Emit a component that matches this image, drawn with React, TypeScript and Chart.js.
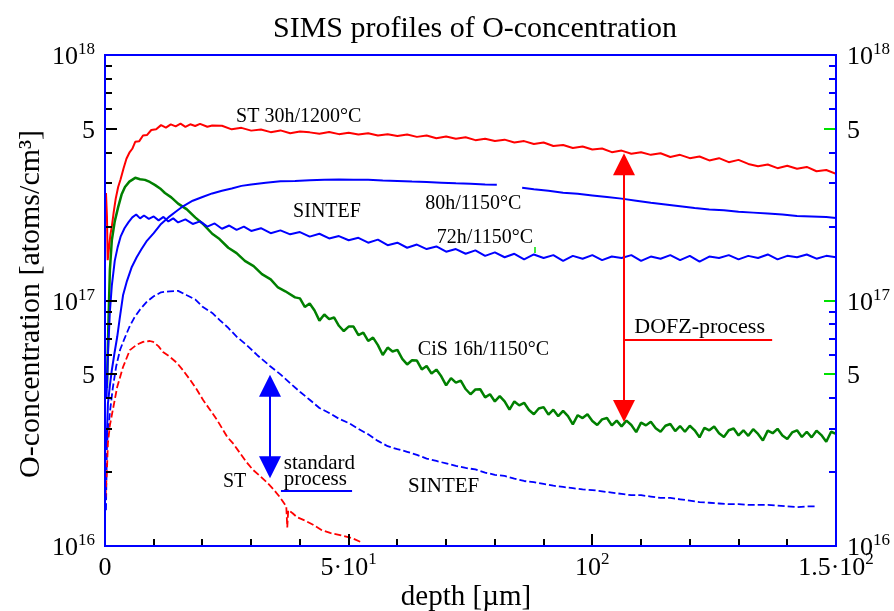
import React, { useEffect, useRef } from "react";
import { Chart, registerables } from "chart.js";

Chart.register(...registerables);

const FONT = '"Liberation Serif", "Times New Roman", Times, serif';

// ---- data: [depth (µm), O-concentration (atoms/cm^3)] ----
const stSolid: [number, number][] = [
  [0.2, 2.74e17], [0.4, 2.2e17], [0.55, 1.46e17], [0.8, 1.62e17], [1.1, 1.85e17], [1.4, 2.0e17],
  [1.8, 2.3e17], [2.2, 2.6e17], [2.7, 2.9e17], [3.2, 3.12e17], [3.8, 3.45e17], [4.4, 3.78e17],
  [5.0, 4.0e17], [5.6, 4.15e17], [6.2, 4.43e17], [7.0, 4.45e17], [7.8, 4.7e17], [8.6, 4.72e17],
  [9.5, 4.95e17], [10.5, 4.98e17], [11.5, 5.18e17], [12.5, 5.06e17], [13.5, 5.22e17], [14.5, 5.12e17],
  [15.5, 5.25e17], [16.5, 5.1e17], [17.5, 5.22e17], [18.5, 5.14e17], [19.5, 5.24e17], [21, 5.1e17],
  [22, 5.16e17], [24, 5.15e17], [26, 4.98e17], [28, 5.05e17], [30, 4.92e17], [32, 4.97e17],
  [34, 4.85e17], [36, 4.93e17], [38, 4.8e17], [40, 4.88e17], [42, 4.84e17], [44, 4.78e17],
  [46, 4.86e17], [48, 4.76e17], [50, 4.82e17], [52, 4.74e17], [54, 4.8e17], [56, 4.7e17],
  [58, 4.76e17], [60, 4.68e17], [62, 4.74e17], [64, 4.64e17], [66, 4.7e17], [68, 4.58e17],
  [70, 4.66e17], [72, 4.56e17], [74, 4.62e17], [76, 4.5e17], [78, 4.56e17], [80, 4.46e17],
  [82, 4.52e17], [84, 4.4e17], [86, 4.46e17], [88, 4.34e17], [90, 4.4e17], [92, 4.26e17],
  [94, 4.3e17], [96, 4.18e17], [98, 4.24e17], [100, 4.12e17], [102, 4.16e17], [104, 4.02e17],
  [106, 4.08e17], [108, 3.96e17], [110, 4.02e17], [112, 3.92e17], [114, 3.98e17], [116, 3.84e17],
  [118, 3.92e17], [120, 3.8e17], [122, 3.86e17], [124, 3.72e17], [126, 3.8e17], [128, 3.66e17],
  [130, 3.74e17], [132, 3.6e17], [134, 3.52e17], [136, 3.58e17], [138, 3.46e17], [140, 3.54e17],
  [142, 3.44e17], [144, 3.5e17], [146, 3.36e17], [148, 3.4e17], [150, 3.28e17],
];

const sintef80hA: [number, number][] = [
  [0.3, 2.5e16], [0.6, 3.8e16], [1.0, 4.5e16], [1.4, 5.2e16], [2.0, 6.2e16], [2.5, 7.1e16],
  [3.0, 8.4e16], [3.7, 1.05e17], [4.5, 1.2e17], [5.5, 1.37e17], [6.5, 1.5e17], [7.5, 1.62e17],
  [8.5, 1.74e17], [10, 1.88e17], [11.5, 2.05e17], [13, 2.18e17], [14.5, 2.3e17], [16, 2.42e17],
  [18, 2.55e17], [20, 2.64e17], [22, 2.73e17], [24, 2.8e17], [26, 2.86e17], [28, 2.93e17],
  [30, 2.97e17], [33, 3.02e17], [36, 3.06e17], [39, 3.07e17], [42, 3.09e17], [45, 3.1e17],
  [48, 3.11e17], [51, 3.1e17], [54, 3.1e17], [57, 3.08e17], [60, 3.07e17], [63, 3.05e17],
  [66, 3.04e17], [69, 3.02e17], [72, 3.0e17], [75, 2.99e17], [78, 2.97e17], [80.4, 2.96e17],
];

const sintef80hB: [number, number][] = [
  [85.6, 2.88e17], [88, 2.84e17], [91, 2.8e17], [94, 2.75e17], [97, 2.72e17], [100, 2.68e17],
  [103, 2.64e17], [106, 2.6e17], [109, 2.55e17], [112, 2.5e17], [115, 2.46e17], [118, 2.42e17],
  [121, 2.38e17], [124, 2.35e17], [127, 2.33e17], [130, 2.3e17], [133, 2.28e17], [136, 2.26e17],
  [139, 2.24e17], [142, 2.21e17], [145, 2.2e17], [148, 2.19e17], [150, 2.17e17],
];

const sintef72h: [number, number][] = [
  [0.3, 4.0e16], [0.6, 6.0e16], [1.0, 9.0e16], [1.4, 1.15e17], [2.0, 1.45e17], [2.6, 1.65e17],
  [3.2, 1.82e17], [4.0, 1.97e17], [4.8, 2.08e17], [5.6, 2.18e17], [6.4, 2.24e17], [7.2, 2.16e17],
  [8.0, 2.22e17], [9, 2.15e17], [10, 2.2e17], [11, 2.12e17], [12, 2.19e17], [13, 2.1e17],
  [14, 2.16e17], [15, 2.08e17], [16.5, 2.14e17], [18, 2.05e17], [19.5, 2.1e17], [21, 2.0e17],
  [22.5, 2.06e17], [24, 1.96e17], [25.5, 2.02e17], [27, 1.94e17], [28.5, 2.0e17], [30, 1.92e17],
  [32, 1.97e17], [34, 1.88e17], [36, 1.93e17], [38, 1.86e17], [40, 1.9e17], [42, 1.82e17],
  [44, 1.87e17], [46, 1.79e17], [48, 1.83e17], [50, 1.76e17], [52, 1.8e17], [54, 1.72e17],
  [56, 1.77e17], [58, 1.68e17], [60, 1.72e17], [62, 1.64e17], [64, 1.69e17], [66, 1.62e17],
  [68, 1.66e17], [70, 1.58e17], [72, 1.62e17], [74, 1.55e17], [76, 1.6e17], [78, 1.52e17],
  [80, 1.57e17], [82, 1.5e17], [84, 1.55e17], [86, 1.47e17], [88, 1.54e17], [90, 1.49e17],
  [92, 1.53e17], [94, 1.45e17], [96, 1.52e17], [98, 1.48e17], [100, 1.53e17], [102, 1.46e17],
  [104, 1.51e17], [106, 1.49e17], [108, 1.53e17], [110, 1.45e17], [112, 1.51e17], [114, 1.48e17],
  [116, 1.53e17], [118, 1.46e17], [120, 1.52e17], [122, 1.44e17], [124, 1.51e17], [126, 1.49e17],
  [128, 1.53e17], [130, 1.47e17], [132, 1.52e17], [134, 1.49e17], [136, 1.54e17], [138, 1.47e17],
  [140, 1.52e17], [142, 1.5e17], [144, 1.54e17], [146, 1.48e17], [148, 1.52e17], [150, 1.5e17],
];

const cis16h: [number, number][] = [
  [0.4, 4.4e16], [0.7, 8.0e16], [1.0, 1.33e17], [1.4, 1.76e17], [2.0, 2.1e17], [2.7, 2.4e17],
  [3.4, 2.7e17], [4.1, 2.9e17], [5.0, 3.05e17], [6.2, 3.16e17], [7.2, 3.12e17], [8.2, 3.1e17],
  [9.2, 3.04e17], [10.3, 2.95e17], [11.3, 2.86e17], [12.3, 2.74e17], [13.6, 2.63e17], [15.0, 2.48e17],
  [16.8, 2.35e17], [18.5, 2.18e17], [20, 2.06e17], [22, 1.87e17], [23.5, 1.78e17], [25.3, 1.64e17],
  [27, 1.56e17], [28.7, 1.45e17], [30.5, 1.38e17], [32.2, 1.28e17], [34, 1.22e17], [35.5, 1.13e17],
  [37, 1.09e17], [39, 1.03e17],
  [40, 10.2e16], [41, 9.41e16], [42, 9.73e16], [43, 9.11e16], [44, 8.28e16], [45, 8.77e16],
  [46, 8.4e16], [47, 8.53e16], [48, 7.89e16], [49, 7.51e16], [50, 7.83e16], [51, 7.83e16],
  [52, 7.23e16], [53, 7.4e16], [54, 6.84e16], [55, 7.06e16], [56, 6.58e16], [57, 6.0e16],
  [58, 6.43e16], [59, 6.2e16], [60, 6.29e16], [61, 5.78e16], [62, 5.49e16], [63, 5.71e16],
  [64, 5.69e16], [65, 5.24e16], [66, 5.41e16], [67, 5.04e16], [68, 5.23e16], [69, 4.91e16],
  [70, 4.51e16], [71, 4.83e16], [72, 4.63e16], [73, 4.72e16], [74, 4.36e16], [75, 4.15e16],
  [76, 4.34e16], [77, 4.35e16], [78, 4.03e16], [79, 4.15e16], [80, 3.88e16], [81, 4.08e16],
  [82, 3.88e16], [83, 3.59e16], [84, 3.88e16], [85, 3.74e16], [86, 3.83e16], [87, 3.58e16],
  [88, 3.44e16], [89, 3.63e16], [90, 3.68e16], [91, 3.43e16], [92, 3.59e16], [93, 3.38e16],
  [94, 3.55e16], [95, 3.38e16], [96, 3.13e16], [97, 3.41e16], [98, 3.32e16], [99, 3.44e16],
  [100, 3.23e16], [101, 3.11e16], [102, 3.28e16], [103, 3.32e16], [104, 3.1e16], [105, 3.24e16],
  [106, 3.07e16], [107, 3.24e16], [108, 3.11e16], [109, 2.91e16], [110, 3.18e16], [111, 3.1e16],
  [112, 3.21e16], [113, 3.02e16], [114, 2.92e16], [115, 3.09e16], [116, 3.14e16], [117, 2.94e16],
  [118, 3.08e16], [119, 2.92e16], [120, 3.09e16], [121, 2.96e16], [122, 2.77e16], [123, 3.03e16],
  [124, 2.96e16], [125, 3.07e16], [126, 2.88e16], [127, 2.78e16], [128, 2.96e16], [129, 3.01e16],
  [130, 2.82e16], [131, 2.96e16], [132, 2.81e16], [133, 2.99e16], [134, 2.86e16], [135, 2.69e16],
  [136, 2.95e16], [137, 2.88e16], [138, 3.0e16], [139, 2.82e16], [140, 2.73e16], [141, 2.9e16],
  [142, 2.96e16], [143, 2.78e16], [144, 2.92e16], [145, 2.77e16], [146, 2.95e16], [147, 2.83e16],
  [148, 2.66e16], [149, 2.92e16], [150, 2.86e16],
];

const sintefStd: [number, number][] = [
  [0.2, 1.4e16], [0.4, 2.6e16], [0.7, 3.0e16], [1.0, 3.5e16], [1.6, 4.4e16], [2.3, 5.4e16],
  [3.1, 6.3e16], [4.0, 7.0e16], [5.0, 7.8e16], [6.0, 8.5e16], [7.2, 9.2e16], [8.6, 9.9e16],
  [10, 10.4e16], [11.5, 10.8e16], [13.3, 10.9e16], [15, 10.95e16], [16.8, 10.5e16], [18.5, 10.1e16],
  [20.1, 9.4e16], [22, 8.9e16], [23.6, 8.3e16], [25.1, 7.8e16], [27.1, 7.1e16], [29, 6.6e16],
  [31.2, 6.0e16], [33.9, 5.4e16], [36, 5.0e16], [38, 4.6e16], [40, 4.25e16], [42, 3.94e16],
  [44, 3.65e16], [46, 3.48e16], [48, 3.3e16], [50, 3.17e16], [52, 3.0e16], [54, 2.85e16],
  [56, 2.68e16], [58, 2.55e16], [60, 2.48e16], [62, 2.42e16], [64, 2.35e16], [66, 2.27e16],
  [68, 2.22e16], [70, 2.17e16], [72, 2.12e16], [74, 2.08e16], [76, 2.05e16], [78, 1.99e16],
  [80, 1.95e16], [82, 1.93e16], [84, 1.88e16], [86, 1.84e16], [88, 1.82e16], [90, 1.79e16],
  [92, 1.76e16], [94, 1.74e16], [96, 1.72e16], [98, 1.7e16], [100, 1.69e16], [102, 1.67e16],
  [104, 1.65e16], [106, 1.63e16], [108, 1.61e16], [110, 1.61e16], [112, 1.59e16], [114, 1.57e16],
  [116, 1.57e16], [118, 1.55e16], [120, 1.53e16], [122, 1.51e16], [124, 1.5e16], [126, 1.49e16],
  [128, 1.48e16], [130, 1.48e16], [132, 1.47e16], [134, 1.47e16], [136, 1.47e16], [138, 1.46e16],
  [140, 1.45e16], [142, 1.44e16], [144, 1.45e16], [145.8, 1.45e16],
];

const stStd: [number, number][] = [
  [0.1, 1.58e16], [0.4, 2.04e16], [0.6, 2.63e16], [1.0, 3.1e16], [1.6, 3.58e16], [2.5, 4.44e16],
  [3.7, 5.36e16], [5.1, 6.28e16], [6.5, 6.6e16], [7.8, 6.78e16], [9.2, 6.84e16], [9.9, 6.78e16],
  [11.0, 6.5e16], [11.9, 6.17e16], [13.3, 5.9e16], [14.8, 5.56e16], [16.0, 5.2e16], [17.5, 4.74e16],
  [18.8, 4.35e16], [20.1, 3.94e16], [21.5, 3.6e16], [23.0, 3.26e16], [25.1, 2.78e16], [26.4, 2.6e16],
  [27.7, 2.39e16], [29.0, 2.2e16], [30.4, 2.04e16], [31.8, 1.93e16], [33.3, 1.81e16], [34.6, 1.7e16],
  [35.9, 1.58e16], [37.2, 1.45e16], [37.4, 1.19e16], [37.6, 1.4e16], [38.5, 1.36e16], [39.4, 1.31e16],
  [41, 1.27e16], [42.7, 1.22e16], [44.5, 1.16e16], [46.2, 1.13e16], [48, 1.11e16], [49.7, 1.09e16],
  [51, 1.07e16], [52.4, 1.04e16],
];

// ---- axes ----
const yMajorTicks = [5e16, 1e17, 5e17];
const yMinorTicks = [2e16, 3e16, 4e16, 6e16, 7e16, 8e16, 9e16, 2e17, 3e17, 4e17, 6e17, 7e17, 8e17, 9e17];
const xMajorTicks = [50, 100];
const xMinorTicks = [10, 20, 30, 40, 60, 70, 80, 90, 110, 120, 130, 140];
const rightGreenTicks = [5e16, 1e17, 5e17];
const yTickLabels: [number, string, string][] = [
  [1e16, "10", "16"], [5e16, "5", ""], [1e17, "10", "17"], [5e17, "5", ""], [1e18, "10", "18"],
];
const xTickLabels: [number, string, string][] = [
  [0, "0", ""], [50, "5·10", "1"], [100, "10", "2"], [150, "1.5·10", "2"],
];

// ---- annotations (anchored in data coordinates) ----
const curveLabels: [string, number, number, number][] = [
  ["ST 30h/1200°C", 26.9, 5.34e17, 20],
  ["SINTEF", 38.6, 2.19e17, 20],
  ["80h/1150°C", 65.7, 2.36e17, 20],
  ["72h/1150°C", 68.1, 1.72e17, 20],
  ["CiS 16h/1150°C", 64.2, 6.0e16, 20],
  ["DOFZ-process", 108.6, 7.37e16, 22],
  ["ST", 24.2, 1.74e16, 20],
  ["standard", 36.7, 2.06e16, 21],
  ["process", 36.7, 1.77e16, 21],
  ["SINTEF", 62.2, 1.66e16, 21],
];
const underlines: [number, number, number, string][] = [
  [106.3, 136.9, 6.9e16, "#ff0000"],
  [36.1, 50.7, 1.67e16, "#0000ff"],
];
const arrows: [number, number, number, string][] = [
  [106.4, 3.98e17, 3.2e16, "#ff0000"],
  [33.9, 4.98e16, 1.89e16, "#0000ff"],
];

const toPts = (arr: [number, number][]) => arr.map(([x, y]) => ({ x, y }));

function drawPow(ctx: CanvasRenderingContext2D, base: string, exp: string, x: number, y: number,
  align: "left" | "right" | "center", bs: number, es: number, raise: number) {
  ctx.font = `${bs}px ${FONT}`;
  const wb = ctx.measureText(base).width;
  ctx.font = `${es}px ${FONT}`;
  const we = exp ? ctx.measureText(exp).width : 0;
  const tot = wb + we;
  const x0 = align === "left" ? x : align === "right" ? x - tot : x - tot / 2;
  ctx.textAlign = "left";
  ctx.textBaseline = "alphabetic";
  ctx.font = `${bs}px ${FONT}`;
  ctx.fillText(base, x0, y);
  if (exp) {
    ctx.font = `${es}px ${FONT}`;
    ctx.fillText(exp, x0 + wb, y - raise);
  }
}

const decorPlugin = {
  id: "decor",
  afterDraw(chart: any) {
    const { ctx, chartArea: a, scales } = chart;
    const xs = scales.x;
    const ys = scales.y;
    ctx.save();
    const line = (x1: number, y1: number, x2: number, y2: number, c: string, w: number) => {
      ctx.beginPath();
      ctx.strokeStyle = c;
      ctx.lineWidth = w;
      ctx.moveTo(x1, y1);
      ctx.lineTo(x2, y2);
      ctx.stroke();
    };
    // y ticks
    const yt = (v: number, len: number) => {
      const p = Math.round(ys.getPixelForValue(v));
      line(a.left, p, a.left + len, p, "#000", 2);
      const green = rightGreenTicks.includes(v);
      line(a.right, p, a.right - len, p, green ? "#00e000" : "#0000ff", 2);
    };
    yMajorTicks.forEach((v) => yt(v, 12));
    yMinorTicks.forEach((v) => yt(v, 7));
    // x ticks
    xMajorTicks.forEach((v) => {
      const p = Math.round(xs.getPixelForValue(v));
      line(p, a.bottom, p, a.bottom - 12, "#000", 2);
    });
    xMinorTicks.forEach((v) => {
      const p = Math.round(xs.getPixelForValue(v));
      line(p, a.bottom, p, a.bottom - 7, "#000", 2);
    });
    // small green mark
    line(Math.round(xs.getPixelForValue(88.3)), ys.getPixelForValue(1.65e17), Math.round(xs.getPixelForValue(88.3)), ys.getPixelForValue(1.56e17), "#00e000", 1.5);
    // frame
    ctx.strokeStyle = "#0000ff";
    ctx.lineWidth = 2;
    ctx.strokeRect(a.left, a.top, a.right - a.left, a.bottom - a.top);

    ctx.fillStyle = "#000";
    // y tick labels
    yTickLabels.forEach(([v, b, e]) => {
      const p = ys.getPixelForValue(v);
      drawPow(ctx, b, e, a.left - 10, p + 9, "right", 26, 17, 10);
      drawPow(ctx, b, e, a.right + 11, p + 9, "left", 26, 17, 10);
    });
    // x tick labels
    xTickLabels.forEach(([v, b, e]) => {
      const p = xs.getPixelForValue(v);
      drawPow(ctx, b, e, p, a.bottom + 29, "center", 26, 17, 11);
    });
    // titles
    ctx.textAlign = "center";
    ctx.textBaseline = "alphabetic";
    ctx.font = `30px ${FONT}`;
    ctx.fillText("SIMS profiles of O-concentration", 475, 37);
    ctx.font = `29px ${FONT}`;
    ctx.fillText("depth [µm]", 466, 605);
    ctx.save();
    ctx.translate(39, 304);
    ctx.rotate(-Math.PI / 2);
    ctx.font = `30px ${FONT}`;
    ctx.fillText("O-concentration [atoms/cm³]", 0, 0);
    ctx.restore();

    // curve labels
    ctx.textAlign = "left";
    curveLabels.forEach(([t, x, y, s]) => {
      ctx.font = `${s}px ${FONT}`;
      ctx.fillStyle = "#000";
      ctx.fillText(t, xs.getPixelForValue(x), ys.getPixelForValue(y));
    });
    underlines.forEach(([x1, x2, y, c]) => {
      const p = Math.round(ys.getPixelForValue(y));
      line(xs.getPixelForValue(x1), p, xs.getPixelForValue(x2), p, c, 2);
    });
    // double arrows
    arrows.forEach(([x, yTop, yBot, c]) => {
      const px = Math.round(xs.getPixelForValue(x));
      const t = ys.getPixelForValue(yTop);
      const b = ys.getPixelForValue(yBot);
      const hl = 22, hw = 11;
      line(px, t + hl - 2, px, b - hl + 2, c, 2);
      ctx.fillStyle = c;
      ctx.beginPath();
      ctx.moveTo(px, t);
      ctx.lineTo(px - hw, t + hl);
      ctx.lineTo(px + hw, t + hl);
      ctx.closePath();
      ctx.fill();
      ctx.beginPath();
      ctx.moveTo(px, b);
      ctx.lineTo(px - hw, b - hl);
      ctx.lineTo(px + hw, b - hl);
      ctx.closePath();
      ctx.fill();
    });
    ctx.restore();
  },
};

export default function App() {
  const ref = useRef<HTMLCanvasElement>(null);
  useEffect(() => {
    if (!ref.current) return;
    const mk = (data: [number, number][], color: string, width: number, dash: number[] = []) => ({
      data: toPts(data),
      borderColor: color,
      borderWidth: width,
      borderDash: dash,
      pointRadius: 0,
      fill: false,
      tension: 0,
      borderJoinStyle: "bevel" as const,
    });
    const chart = new Chart(ref.current, {
      type: "line",
      data: {
        datasets: [
          mk(stStd, "#ff0000", 1.8, [7, 3]),
          mk(sintefStd, "#0000ff", 1.8, [7, 3]),
          mk(sintef72h, "#0000ff", 2),
          mk(sintef80hA, "#0000ff", 2),
          mk(sintef80hB, "#0000ff", 2),
          mk(cis16h, "#008000", 2.5),
          mk(stSolid, "#ff0000", 2),
        ] as any,
      },
      options: {
        responsive: false,
        animation: false,
        devicePixelRatio: 1,
        layout: { padding: { top: 55, right: 58, left: 0, bottom: 0 } },
        plugins: { legend: { display: false }, tooltip: { enabled: false }, title: { display: false } },
        scales: {
          x: {
            type: "linear", min: 0, max: 150,
            grid: { display: false }, border: { display: false }, ticks: { display: false },
            afterFit: (s: any) => { s.height = 65; },
          },
          y: {
            type: "logarithmic", min: 1e16, max: 1e18,
            grid: { display: false }, border: { display: false }, ticks: { display: false },
            afterFit: (s: any) => { s.width = 105; },
          },
        },
      } as any,
      plugins: [decorPlugin],
    });
    return () => chart.destroy();
  }, []);
  return (
    <div style={{ position: "fixed", left: 0, top: 0, width: 894, height: 611, background: "#fff" }}>
      <canvas ref={ref} width={894} height={611} style={{ display: "block" }} />
    </div>
  );
}
